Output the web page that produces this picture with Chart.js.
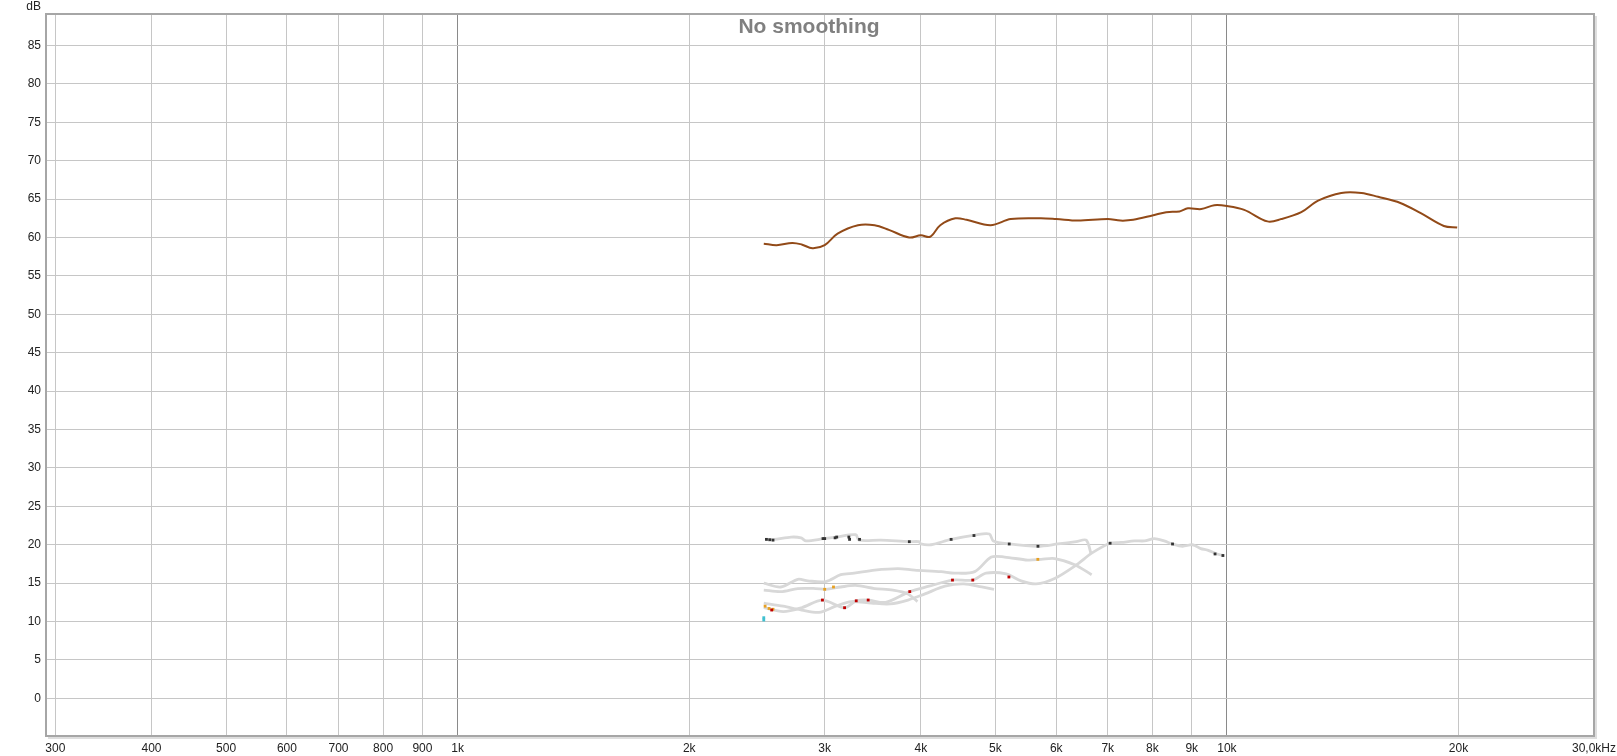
<!DOCTYPE html>
<html>
<head>
<meta charset="utf-8">
<script src="https://cdn.jsdelivr.net/npm/chart.js@4.4.1/dist/chart.umd.min.js"></script>
<style>
  html, body { margin: 0; padding: 0; background: #ffffff; }
  canvas { display: block; }
</style>
</head>
<body>
<canvas id="chart" width="1617" height="756"></canvas>
<script>
// Axis ticks
const xTicks = [300, 400, 500, 600, 700, 800, 900, 1000, 2000, 3000, 4000, 5000, 6000, 7000, 8000, 9000, 10000, 20000, 30000];
const xTickLabels = ["300", "400", "500", "600", "700", "800", "900", "1k", "2k", "3k", "4k", "5k", "6k", "7k", "8k", "9k", "10k", "20k", "30,0kHz"];
const yTicks = [0, 5, 10, 15, 20, 25, 30, 35, 40, 45, 50, 55, 60, 65, 70, 75, 80, 85];

// Frequency response (brown)
const respFreq = [2500, 2598, 2722, 2800, 2892, 3000, 3118, 3314, 3484, 3635, 3863, 4000, 4113, 4240, 4436, 4588, 4929, 5237, 5730, 6000, 6400, 7000, 7271, 7553, 8022, 8337, 8676, 8897, 9260, 9628, 10000, 10530, 11291, 11767, 12492, 13137, 14080, 14955, 15720, 16803, 17840, 19140, 19920];
const respDb = [59.2, 59.0, 59.3, 59.1, 58.6, 59.0, 60.5, 61.6, 61.6, 61.0, 60.0, 60.3, 60.1, 61.6, 62.5, 62.3, 61.6, 62.4, 62.5, 62.4, 62.2, 62.4, 62.2, 62.3, 62.9, 63.3, 63.4, 63.8, 63.7, 64.2, 64.1, 63.6, 62.1, 62.4, 63.3, 64.8, 65.8, 65.8, 65.3, 64.5, 63.2, 61.5, 61.3];

// Distortion curves (light grey)
const thdFreq = [2515, 2577, 2713, 2795, 2837, 2992, 3101, 3293, 3323, 3548, 3862, 3979, 4000, 4124, 4379, 4723, 4911, 4970, 5212, 5678, 6030, 6370, 6563, 6655];
const thdDb = [20.7, 20.7, 21.0, 20.9, 20.5, 20.8, 21.0, 21.3, 20.6, 20.6, 20.4, 20.4, 20.1, 20.0, 20.7, 21.3, 21.4, 20.5, 20.1, 19.8, 20.1, 20.4, 20.6, 18.9];

const h2Freq = [2500, 2650, 2800, 2980, 3184, 3297, 3417, 3600, 3870, 4100, 4398, 4673, 4862, 5165, 5400, 5648, 5970, 6378, 6670, 7049, 7285, 7582, 7812, 8047, 8285, 8497, 8755, 9020, 9248, 9436, 9710, 9902];
const h2Db = [11.8, 11.3, 11.8, 12.8, 11.8, 12.7, 12.8, 12.5, 13.9, 14.6, 15.4, 15.4, 16.3, 16.2, 15.3, 14.9, 15.6, 17.4, 18.9, 20.2, 20.3, 20.5, 20.5, 20.8, 20.5, 20.1, 19.8, 20.0, 19.5, 19.3, 18.8, 18.6];

const h3Freq = [2500, 2631, 2768, 2852, 3010, 3148, 3276, 3484, 3734, 3925, 4252, 4425, 4701, 4940, 5141, 5511, 5735, 5971, 6340, 6670];
const h3Db = [15.0, 14.5, 15.5, 15.3, 15.2, 16.1, 16.3, 16.7, 16.9, 16.7, 16.5, 16.3, 16.5, 18.4, 18.4, 18.0, 18.1, 18.2, 17.4, 16.1];

const h4Freq = [2500, 2650, 2800, 2950, 3100, 3250, 3450, 3650, 3850, 4050, 4300, 4550, 4800, 4980];
const h4Db = [12.4, 12.0, 11.5, 11.2, 12.0, 12.6, 12.4, 12.3, 12.8, 13.6, 14.6, 14.9, 14.5, 14.2];

const h5Freq = [2500, 2631, 2768, 2920, 3010, 3148, 3290, 3484, 3680, 3850, 3960];
const h5Db = [14.1, 13.9, 14.3, 14.3, 14.2, 14.5, 14.7, 14.3, 14.1, 13.6, 12.6];

// Small coloured marks on the distortion curves
const blackMarkFreq = [2520, 2545, 2570, 2985, 3000, 3095, 3110, 3225, 3232, 3330, 3865, 4380, 4690, 5212, 5680, 7049, 8497, 9650, 9880];
const blackMarkDb = [20.7, 20.65, 20.6, 20.8, 20.8, 20.9, 21.0, 21.0, 20.7, 20.7, 20.4, 20.7, 21.2, 20.1, 19.8, 20.2, 20.1, 18.8, 18.6];
const redMarkFreq = [2560, 2980, 3184, 3297, 3417, 3870, 4398, 4673, 5207];
const redMarkDb = [11.5, 12.8, 11.8, 12.7, 12.8, 13.9, 15.4, 15.4, 15.8];
const orangeMarkFreq = [2510, 2540, 2570, 3000, 3080, 5678];
const orangeMarkDb = [12.0, 11.7, 11.6, 14.2, 14.5, 18.1];
const cyanMarkFreq = [2500, 2500];
const cyanMarkDb = [10.5, 10.2];

const FONT = "'Liberation Sans', Arial, sans-serif";

function toPoints(freqs, dbs) {
  return freqs.map((f, i) => ({ x: f, y: dbs[i] }));
}

// lower "order" is painted on top
function greyLine(freqs, dbs) {
  return {
    data: toPoints(freqs, dbs),
    borderColor: "#d8d8d8",
    borderWidth: 2.8,
    pointRadius: 0,
    tension: 0.3,
    order: 3,
  };
}

function marks(freqs, dbs, color) {
  return {
    data: toPoints(freqs, dbs),
    showLine: false,
    pointStyle: "rect",
    pointRadius: 2,
    pointBackgroundColor: color,
    pointBorderWidth: 0,
    order: 1,
  };
}

// Frame, title and unit label
const decor = {
  id: "decor",
  afterDraw(chart) {
    const { ctx, chartArea: a } = chart;
    ctx.save();
    ctx.strokeStyle = "#dedede";
    ctx.lineWidth = 2;
    ctx.beginPath();
    ctx.moveTo(a.right + 2, a.top + 2);
    ctx.lineTo(a.right + 2, a.bottom + 2);
    ctx.lineTo(a.left + 2, a.bottom + 2);
    ctx.stroke();
    ctx.strokeStyle = "#a6a6a6";
    ctx.lineWidth = 2;
    ctx.strokeRect(a.left, a.top, a.right - a.left, a.bottom - a.top);

    ctx.fillStyle = "#808080";
    ctx.font = "bold 21px " + FONT;
    ctx.textAlign = "center";
    ctx.textBaseline = "middle";
    ctx.fillText("No smoothing", 809, 27);

    ctx.fillStyle = "#222222";
    ctx.font = "12px " + FONT;
    ctx.textAlign = "right";
    ctx.textBaseline = "top";
    ctx.fillText("dB", 41, 1);
    ctx.restore();
  },
};

new Chart(document.getElementById("chart"), {
  type: "line",
  data: {
    datasets: [
      greyLine(thdFreq, thdDb),
      greyLine(h5Freq, h5Db),
      greyLine(h4Freq, h4Db),
      greyLine(h3Freq, h3Db),
      greyLine(h2Freq, h2Db),
      marks(blackMarkFreq, blackMarkDb, "#333333"),
      marks(redMarkFreq, redMarkDb, "#c00000"),
      marks(orangeMarkFreq, orangeMarkDb, "#e8a020"),
      marks(cyanMarkFreq, cyanMarkDb, "#40c0d0"),
      {
        data: toPoints(respFreq, respDb),
        borderColor: "#924a18",
        borderWidth: 2,
        pointRadius: 0,
        tension: 0.35,
        order: 2,
      },
    ],
  },
  options: {
    responsive: false,
    animation: false,
    layout: { padding: { top: 14, right: 23, bottom: 0, left: 0 } },
    plugins: {
      legend: { display: false },
      tooltip: { enabled: false },
    },
    scales: {
      x: {
        type: "logarithmic",
        min: 291.7,
        max: 30000,
        afterBuildTicks(scale) {
          scale.ticks = xTicks.map((v) => ({ value: v }));
        },
        afterFit(scale) {
          scale.height = 20;
          scale.paddingLeft = 0;
          scale.paddingRight = 0;
        },
        ticks: {
          autoSkip: false,
          maxRotation: 0,
          padding: 5,
          color: "#222222",
          font: { family: FONT, size: 12 },
          callback: (value, index) => xTickLabels[index],
        },
        grid: {
          drawTicks: false,
          color: (c) => (c.tick && (c.tick.value === 1000 || c.tick.value === 10000) ? "#8a8a8a" : "#c6c6c6"),
          lineWidth: 1,
        },
        border: { display: false },
      },
      y: {
        min: -4.9,
        max: 89.1,
        afterBuildTicks(scale) {
          scale.ticks = yTicks.map((v) => ({ value: v }));
        },
        afterFit(scale) {
          scale.width = 46;
          scale.paddingTop = 0;
          scale.paddingBottom = 0;
        },
        ticks: {
          padding: 5,
          color: "#222222",
          font: { family: FONT, size: 12 },
        },
        grid: { drawTicks: false, color: "#c6c6c6", lineWidth: 1 },
        border: { display: false },
      },
    },
  },
  plugins: [decor],
});
</script>
</body>
</html>
